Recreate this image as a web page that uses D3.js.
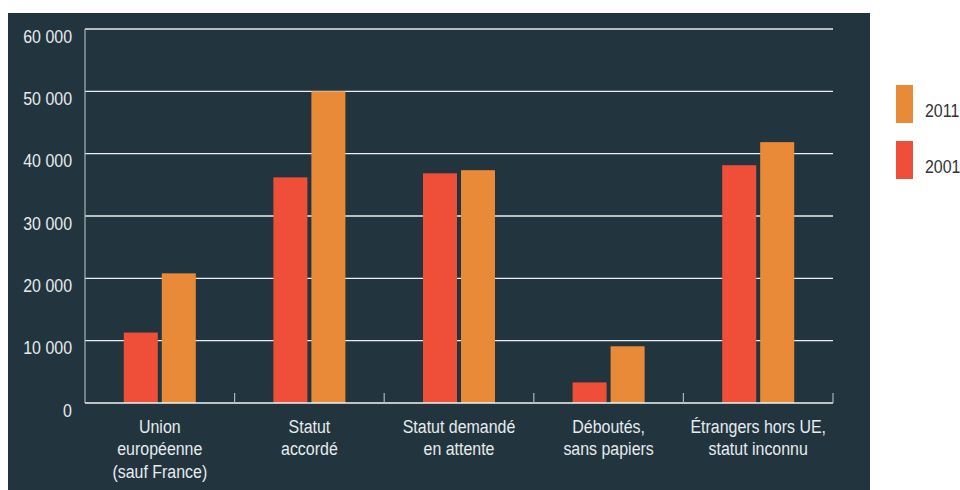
<!DOCTYPE html>
<html>
<head>
<meta charset="utf-8">
<script src="https://cdn.jsdelivr.net/npm/d3@7/dist/d3.min.js"></script>
<style>
  html, body { margin: 0; padding: 0; background: #ffffff; }
  svg { display: block; font-family: "Liberation Sans", Arial, sans-serif; }
</style>
</head>
<body>
<svg id="chart" width="960" height="490"></svg>
<script>
// Catégories (libellés sur plusieurs lignes)
const categories = [
  ["Union", "européenne", "(sauf France)"],
  ["Statut", "accordé"],
  ["Statut demandé", "en attente"],
  ["Déboutés,", "sans papiers"],
  ["Étrangers hors UE,", "statut inconnu"]
];
const seriesNames = ["2001", "2011"];
const values2001 = [11300, 36200, 36850, 3300, 38150];
const values2011 = [20800, 50000, 37350, 9100, 41850];
const yTicks = [0, 10000, 20000, 30000, 40000, 50000, 60000];
const legendOrder = ["2011", "2001"];

const colors = { "2001": "#ef4e38", "2011": "#e98a39" };
const seriesValues = { "2001": values2001, "2011": values2011 };

// Police condensée : glyphes hauts, resserrés horizontalement
const fontSize = 19;
const squeeze = 0.84;
const place = (px, py) => `translate(${px},${py}) scale(${squeeze},1)`;

const svg = d3.select("#chart");

// Panneau sombre
svg.append("rect")
  .attr("x", 8).attr("y", 13)
  .attr("width", 862).attr("height", 477)
  .attr("fill", "#22353f");

const plotLeft = 85, plotRight = 833, plotTop = 29, plotBottom = 403;
const keys = categories.map(c => c.join(" "));

const x = d3.scaleBand().domain(keys).range([plotLeft, plotRight]).padding(0);
const y = d3.scaleLinear().domain([0, 60000]).range([plotBottom, plotTop]);
const sub = d3.scaleBand().domain(seriesNames).range([0, 72]).paddingInner(0.105);

const fmt = d3.formatLocale({ decimal: ",", thousands: " ", grouping: [3], currency: ["", " €"] }).format(",d");

// Lignes de quadrillage
svg.append("g").selectAll("line")
  .data(yTicks.filter(t => t > 0))
  .join("line")
  .attr("x1", plotLeft).attr("x2", plotRight)
  .attr("y1", d => y(d)).attr("y2", d => y(d))
  .attr("stroke", "#e9eef0").attr("stroke-width", 1.3);

// Étiquettes de l'axe vertical
svg.append("g").selectAll("text")
  .data(yTicks)
  .join("text")
  .attr("transform", d => place(72, y(d) + 13.5))
  .attr("text-anchor", "end")
  .attr("font-size", fontSize)
  .attr("fill", "#e6ebed")
  .text(d => fmt(d));

// Barres
const groups = svg.append("g").selectAll("g")
  .data(keys)
  .join("g")
  .attr("transform", d => `translate(${x(d) + x.bandwidth() / 2 - 36},0)`);

groups.selectAll("rect")
  .data((d, i) => seriesNames.map(s => ({ s, v: seriesValues[s][i] })))
  .join("rect")
  .attr("x", d => sub(d.s))
  .attr("width", sub.bandwidth())
  .attr("y", d => y(d.v))
  .attr("height", d => y(0) - y(d.v))
  .attr("fill", d => colors[d.s]);

// Axe vertical
svg.append("line")
  .attr("x1", plotLeft).attr("x2", plotLeft)
  .attr("y1", plotTop).attr("y2", plotBottom)
  .attr("stroke", "#a9b3b8").attr("stroke-width", 1.2);

// Axe horizontal et graduations entre catégories
svg.append("line")
  .attr("x1", plotLeft).attr("x2", plotRight)
  .attr("y1", y(0)).attr("y2", y(0))
  .attr("stroke", "#f2f4f5").attr("stroke-width", 1.5);

const boundaries = keys.slice(1).map(k => x(k)).concat([plotRight]);
svg.append("g").selectAll("line")
  .data(boundaries)
  .join("line")
  .attr("x1", d => d).attr("x2", d => d)
  .attr("y1", y(0)).attr("y2", y(0) - 10)
  .attr("stroke", "#a9b3b8").attr("stroke-width", 1.2);

// Libellés des catégories
const labels = svg.append("g").selectAll("text")
  .data(categories)
  .join("text")
  .attr("transform", (d, i) => place(x(keys[i]) + x.bandwidth() / 2, 433))
  .attr("text-anchor", "middle")
  .attr("font-size", fontSize)
  .attr("fill", "#e6ebed");

labels.selectAll("tspan")
  .data(d => d)
  .join("tspan")
  .attr("x", 0)
  .attr("y", (d, j) => j * 22.5)
  .text(d => d);

// Légende
const legend = svg.append("g").selectAll("g")
  .data(legendOrder)
  .join("g")
  .attr("transform", (d, i) => `translate(896,${85 + i * 56})`);

legend.append("rect")
  .attr("width", 17).attr("height", 38)
  .attr("fill", d => colors[d]);

legend.append("text")
  .attr("transform", place(29, 32))
  .attr("font-size", fontSize)
  .attr("fill", "#333333")
  .text(d => d);
</script>
</body>
</html>
